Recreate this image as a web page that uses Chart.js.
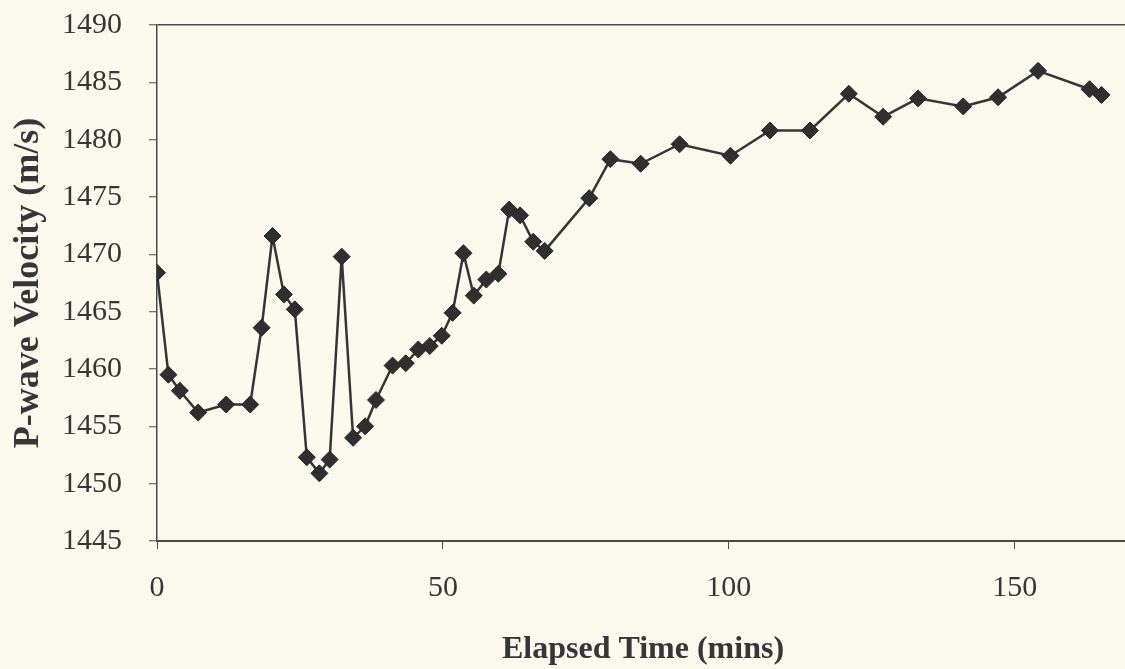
<!DOCTYPE html>
<html>
<head>
<meta charset="utf-8">
<script src="https://cdn.jsdelivr.net/npm/chart.js@4/dist/chart.umd.min.js"></script>
<style>
  html, body { margin: 0; padding: 0; background: #fbf9ee; overflow: hidden; }
  #wrap { width: 1140px; height: 669px; }
</style>
</head>
<body>
<div id="wrap"><canvas id="c" width="1140" height="669"></canvas></div>
<script>
// Elapsed time of each measurement (minutes)
const elapsedMins = [0, 2.0, 4.0, 7.2, 12.1, 16.3, 18.3, 20.2, 22.2, 24.1, 26.2, 28.4, 30.2, 32.3,
  34.3, 36.4, 38.3, 41.2, 43.5, 45.7, 47.7, 49.8, 51.7, 53.6, 55.4, 57.6, 59.7, 61.6, 63.5, 65.8,
  67.8, 75.6, 79.3, 84.6, 91.4, 100.3, 107.2, 114.2, 121.0, 127.0, 133.1, 141.0, 147.1, 154.1,
  163.1, 165.2];

// P-wave velocity (m/s)
const velocity = [1468.4, 1459.5, 1458.1, 1456.2, 1456.9, 1456.9, 1463.6, 1471.6, 1466.5, 1465.2,
  1452.3, 1450.9, 1452.1, 1469.8, 1454.0, 1455.0, 1457.3, 1460.3, 1460.5, 1461.7, 1462.0, 1462.9,
  1464.9, 1470.1, 1466.4, 1467.8, 1468.3, 1473.9, 1473.4, 1471.1, 1470.3, 1474.9, 1478.3, 1477.9,
  1479.6, 1478.6, 1480.8, 1480.8, 1484.0, 1482.0, 1483.6, 1482.9, 1483.7, 1486.0, 1484.4, 1483.9];

// Axis tick values
const xTicks = [0, 50, 100, 150];
const yTicks = [1445, 1450, 1455, 1460, 1465, 1470, 1475, 1480, 1485, 1490];

const points = elapsedMins.map((t, i) => ({ x: t, y: velocity[i] }));

const axisColor = '#4a4a4a';
const textColor = '#363636';
const serif = "'Liberation Serif', 'Times New Roman', serif";

new Chart(document.getElementById('c'), {
  type: 'line',
  data: {
    datasets: [{
      data: points,
      borderColor: '#353535',
      borderWidth: 2.5,
      pointStyle: 'rectRot',
      pointRadius: 8.5,
      pointBackgroundColor: '#2f2f2f',
      pointBorderColor: '#262626',
      pointBorderWidth: 1,
      tension: 0
    }]
  },
  options: {
    responsive: false,
    animation: false,
    layout: { padding: { top: 25, right: 11, left: 0, bottom: 0 } },
    plugins: { legend: { display: false }, tooltip: { enabled: false } },
    scales: {
      x: {
        type: 'linear',
        min: 0,
        max: 170,
        afterFit: s => { s.height = 128; s.paddingLeft = 0; s.paddingRight = 0; },
        afterBuildTicks: s => { s.ticks = xTicks.map(v => ({ value: v })); },
        ticks: {
          color: textColor,
          font: { family: serif, size: 30 },
          padding: 21,
          maxRotation: 0,
          callback: v => String(v)
        },
        grid: {
          drawOnChartArea: false,
          drawTicks: true,
          tickLength: 8,
          tickColor: axisColor,
          tickWidth: 1
        },
        border: { display: true, color: axisColor, width: 2 },
        title: {
          display: true,
          text: 'Elapsed Time (mins)',
          color: textColor,
          font: { family: serif, size: 32, weight: 'bold' },
          padding: { top: 0, bottom: 0 }
        }
      },
      y: {
        min: 1445,
        max: 1490,
        afterFit: s => { s.width = 157; s.paddingTop = 0; s.paddingBottom = 0; },
        afterBuildTicks: s => { s.ticks = yTicks.map(v => ({ value: v })); },
        ticks: {
          color: textColor,
          font: { family: serif, size: 30 },
          padding: 27,
          callback: v => String(v)
        },
        grid: {
          drawOnChartArea: true,
          color: c => (c.tick && c.tick.value === 1490) ? axisColor : 'rgba(0,0,0,0)',
          lineWidth: 1.5,
          drawTicks: true,
          tickLength: 8,
          tickColor: axisColor,
          tickWidth: 1
        },
        border: { display: true, color: axisColor, width: 1.5 },
        title: {
          display: true,
          text: 'P-wave Velocity (m/s)',
          color: textColor,
          font: { family: serif, size: 36, weight: 'bold' },
          padding: { top: 7, bottom: 0 }
        }
      }
    }
  }
});
</script>
</body>
</html>
